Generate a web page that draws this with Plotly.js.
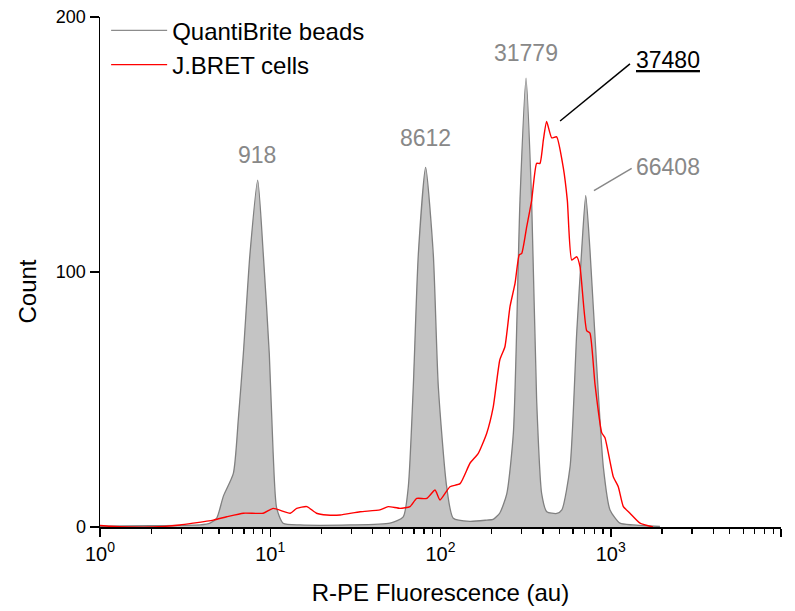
<!DOCTYPE html>
<html>
<head>
<meta charset="utf-8">
<script src="https://cdn.plot.ly/plotly-3.0.1.min.js"></script>
<style>html,body{margin:0;padding:0;background:#fff;}#chart{width:795px;height:611px;}</style>
</head>
<body>
<div id="chart"></div>
<script>
// QuantiBrite beads histogram (fluorescence in au, count)
const beadsX = [1.0, 1.97, 3.0, 3.87, 4.43, 4.85, 5.30, 6.07, 6.49, 6.95, 7.60, 8.44, 9.10, 9.87, 10.4, 10.9, 11.9, 15.0, 29.4, 50.5, 60.4, 64.7, 69.2, 74.1, 81.8, 90.7, 97.1, 108.7, 118.9, 149, 187, 204, 223, 245, 268, 293, 318, 343, 367, 393, 421, 482, 516, 577, 631, 675, 713, 755, 827, 904, 990, 1133, 1352, 1945];
const beadsY = [0.3, 0.5, 0.6, 0.8, 1.5, 3.5, 12, 21, 42, 68, 107, 136, 107, 68, 29, 7.5, 1.5, 0.8, 0.8, 1.5, 4, 15.8, 55, 107, 141, 107, 55, 15.8, 3.4, 2.2, 2.7, 3, 5.5, 13, 37, 128, 176, 128, 50, 13, 6, 5.3, 6.7, 23.7, 76, 108.6, 130, 108.6, 63, 23.7, 6.7, 1.5, 0.8, 0.2];

// J.BRET cells histogram
const cellsX = [1.0, 1.15, 2.05, 2.95, 3.52, 4.63, 5.55, 6.95, 9.10, 10.4, 13.1, 14.3, 16.4, 18.7, 21.5, 25.7, 33.7, 44.1, 49.3, 57.8, 66.2, 72.5, 83.0, 92.9, 99.3, 113.7, 130.3, 149, 166.7, 186.7, 204, 223, 239, 256, 274, 290, 300, 321, 343, 367, 384, 402, 420, 450, 481, 526, 556, 590, 631, 660, 722, 755, 808, 885, 925, 1035, 1107, 1186, 1297, 1486, 1770];
const cellsY = [0.6, 0.3, 0, 0.8, 1.5, 2.7, 4, 5.4, 5.4, 7.3, 5.4, 7.3, 8, 5.4, 4.7, 4.7, 6, 6.7, 8, 7.3, 8, 11.2, 11.2, 14.5, 10.6, 15.8, 17, 25, 28.9, 36.7, 47, 65.5, 70.7, 86.4, 95.5, 106.7, 107.3, 117.8, 128, 142.6, 142.6, 151.8, 159, 152.6, 153, 141, 128, 104.7, 106, 102, 77, 76, 56, 37, 35, 19.7, 15.8, 8, 5.4, 1.5, 0];

const seriesNames = ["QuantiBrite beads", "J.BRET cells"];
const xTickVals = [1, 10, 100, 1000, 10000];
const xTickText = ["10<sup>0</sup>", "10<sup>1</sup>", "10<sup>2</sup>", "10<sup>3</sup>", "10<sup>4</sup>"];
const yTickVals = [0, 100, 200];
const xTitle = "R-PE Fluorescence (au)";
const yTitle = "Count";

// peak labels: [log10 x, count, text, colour]
const peakLabels = [
  [0.924, 145.8, "918", "#888888"],
  [1.909, 152.4, "8612", "#888888"],
  [2.501, 185.8, "31779", "#888888"],
  [3.336, 183.1, "<u>37480</u>", "#000000"],
  [3.336, 141.0, "66408", "#888888"]
];
// leader lines: [x0, y0, x1, y1, colour]
const leaders = [
  [504, 159.2, 1297, 181.6, "#000000"],
  [797, 131.9, 1327, 140.6, "#888888"]
];

const minorVals = [];
for (let k = 0; k < 4; k++) for (let m = 2; m <= 9; m++) minorVals.push(m * Math.pow(10, k));

const FONT = "Liberation Sans, Arial, sans-serif";

const traces = [
  {x: beadsX, y: beadsY, type: "scatter", mode: "lines", fill: "tozeroy",
   fillcolor: "#c4c4c4", line: {color: "#808080", width: 1.3, shape: "spline", smoothing: 0.6},
   showlegend: false, hoverinfo: "skip"},
  {x: [null], y: [null], type: "scatter", mode: "lines", name: seriesNames[0],
   line: {color: "#8c8c8c", width: 1.3}},
  {x: cellsX, y: cellsY, type: "scatter", mode: "lines", name: seriesNames[1],
   line: {color: "#ff0000", width: 1.4, shape: "spline", smoothing: 0.5}}
];

const annotations = peakLabels.map(p => ({x: p[0], y: p[1], xref: "x", yref: "y", text: p[2],
    showarrow: false, font: {size: 23, color: p[3], family: FONT}, xanchor: "center", yanchor: "middle"}));
annotations.push({x: -0.107, y: 0.462, xref: "paper", yref: "paper", text: yTitle, textangle: -90,
    showarrow: false, font: {size: 24, color: "#000", family: FONT}, xanchor: "center", yanchor: "middle"});

const layout = {
  width: 795, height: 611,
  margin: {l: 100, r: 14, t: 17, b: 84, autoexpand: false},
  paper_bgcolor: "#ffffff", plot_bgcolor: "#ffffff",
  font: {family: FONT, color: "#000"},
  showlegend: true,
  legend: {x: 0.009, y: 1.017, xanchor: "left", yanchor: "top", bgcolor: "rgba(0,0,0,0)",
           font: {size: 24, family: FONT}, itemwidth: 56, tracegroupgap: 0},
  xaxis: {type: "log", range: [0, 4], showgrid: false, zeroline: false,
          showline: true, linecolor: "#000", linewidth: 1.5,
          ticks: "outside", ticklen: 8, tickwidth: 1.5, tickcolor: "#000",
          tickmode: "array", tickvals: xTickVals, ticktext: xTickText,
          tickfont: {size: 20, family: FONT},
          minor: {tickmode: "array", tickvals: minorVals, ticks: "outside", ticklen: 5, tickwidth: 1.3, tickcolor: "#000", showgrid: false},
          title: {text: xTitle, font: {size: 24, family: FONT}, standoff: 20}},
  yaxis: {range: [0, 200], showgrid: false, zeroline: false,
          showline: true, linecolor: "#000", linewidth: 1.5,
          ticks: "outside", ticklen: 9, tickwidth: 1.5, tickcolor: "#000",
          tickmode: "array", tickvals: yTickVals,
          tickfont: {size: 18, family: FONT}},
  annotations: annotations,
  shapes: leaders.map(l => ({type: "line", xref: "x", yref: "y", x0: l[0], y0: l[1], x1: l[2], y1: l[3],
    line: {color: l[4], width: 1.5}}))
};

Plotly.newPlot("chart", traces, layout, {displayModeBar: false, staticPlot: true});
</script>
</body>
</html>
